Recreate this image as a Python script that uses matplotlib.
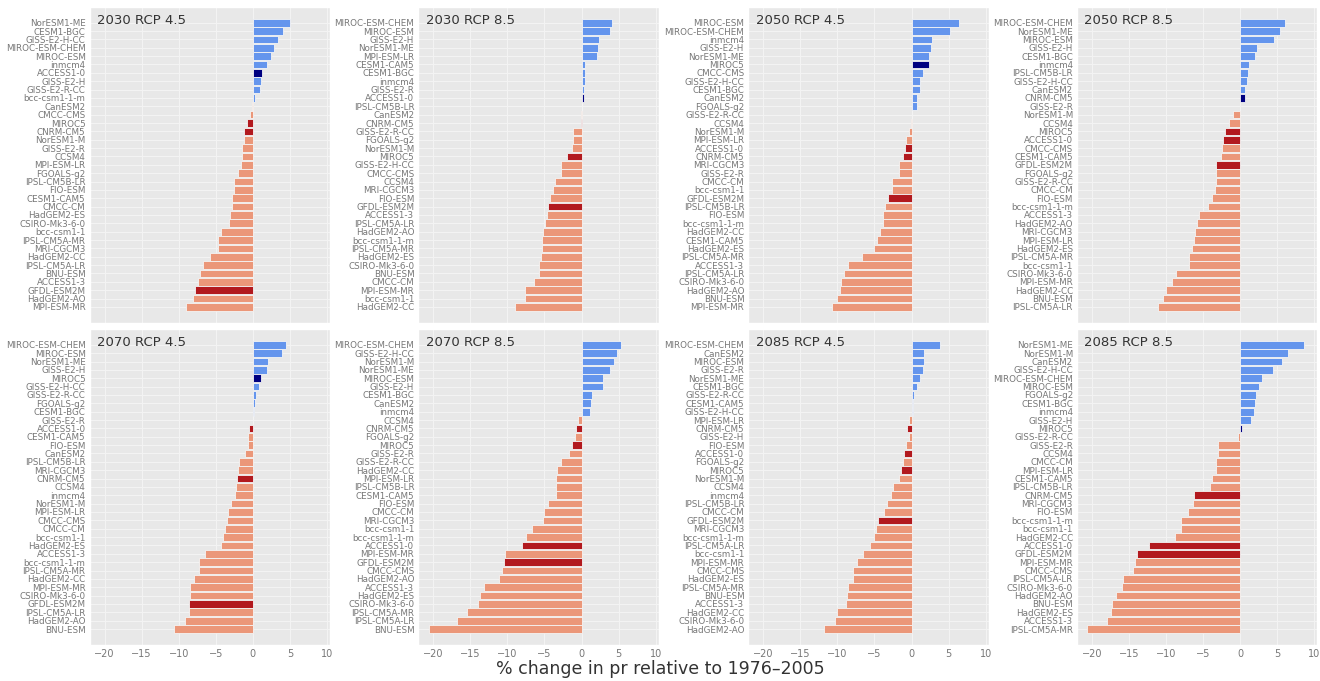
import numpy as np
import matplotlib
matplotlib.use("Agg")
import matplotlib.pyplot as plt

plt.style.use("ggplot")

# % change in pr per model, sorted from largest to smallest
models_2030_45 = ["NorESM1-ME", "CESM1-BGC", "GISS-E2-H-CC", "MIROC-ESM-CHEM", "MIROC-ESM", "inmcm4",
                  "ACCESS1-0", "GISS-E2-H", "GISS-E2-R-CC", "bcc-csm1-1-m", "CanESM2", "CMCC-CMS",
                  "MIROC5", "CNRM-CM5", "NorESM1-M", "GISS-E2-R", "CCSM4", "MPI-ESM-LR", "FGOALS-g2",
                  "IPSL-CM5B-LR", "FIO-ESM", "CESM1-CAM5", "CMCC-CM", "HadGEM2-ES", "CSIRO-Mk3-6-0",
                  "bcc-csm1-1", "IPSL-CM5A-MR", "MRI-CGCM3", "HadGEM2-CC", "IPSL-CM5A-LR", "BNU-ESM",
                  "ACCESS1-3", "GFDL-ESM2M", "HadGEM2-AO", "MPI-ESM-MR"]
pr_2030_45 = [5.0, 4.0, 3.4, 2.9, 2.5, 1.85, 1.2, 1.1, 0.95, 0.25, -0.1, -0.4, -0.85, -1.2, -1.25,
              -1.45, -1.5, -1.6, -2.0, -2.5, -2.5, -2.8, -2.8, -3.1, -3.2, -4.3, -4.7, -4.7, -5.85,
              -6.7, -7.1, -7.4, -7.75, -8.1, -9.05]

models_2030_85 = ["MIROC-ESM-CHEM", "MIROC-ESM", "GISS-E2-H", "NorESM1-ME", "MPI-ESM-LR", "CESM1-CAM5",
                  "CESM1-BGC", "inmcm4", "GISS-E2-R", "ACCESS1-0", "IPSL-CM5B-LR", "CanESM2", "CNRM-CM5",
                  "GISS-E2-R-CC", "FGOALS-g2", "NorESM1-M", "MIROC5", "GISS-E2-H-CC", "CMCC-CMS", "CCSM4",
                  "MRI-CGCM3", "FIO-ESM", "GFDL-ESM2M", "ACCESS1-3", "IPSL-CM5A-LR", "HadGEM2-AO",
                  "bcc-csm1-1-m", "IPSL-CM5A-MR", "HadGEM2-ES", "CSIRO-Mk3-6-0", "BNU-ESM", "CMCC-CM",
                  "MPI-ESM-MR", "bcc-csm1-1", "HadGEM2-CC"]
pr_2030_85 = [4.05, 3.8, 2.4, 2.15, 2.1, 0.5, 0.45, 0.4, 0.35, 0.35, 0.02, -0.02, -0.1, -1.1, -1.1,
              -1.25, -1.9, -2.8, -2.8, -3.6, -3.9, -4.2, -4.55, -4.7, -4.95, -5.15, -5.3, -5.35, -5.5,
              -5.7, -5.8, -6.4, -7.6, -7.6, -9.0]

models_2050_45 = ["MIROC-ESM", "MIROC-ESM-CHEM", "inmcm4", "GISS-E2-H", "NorESM1-ME", "MIROC5", "CMCC-CMS",
                  "GISS-E2-H-CC", "CESM1-BGC", "CanESM2", "FGOALS-g2", "GISS-E2-R-CC", "CCSM4", "NorESM1-M",
                  "MPI-ESM-LR", "ACCESS1-0", "CNRM-CM5", "MRI-CGCM3", "GISS-E2-R", "CMCC-CM", "bcc-csm1-1",
                  "GFDL-ESM2M", "IPSL-CM5B-LR", "FIO-ESM", "bcc-csm1-1-m", "HadGEM2-CC", "CESM1-CAM5",
                  "HadGEM2-ES", "IPSL-CM5A-MR", "ACCESS1-3", "IPSL-CM5A-LR", "CSIRO-Mk3-6-0", "HadGEM2-AO",
                  "BNU-ESM", "MPI-ESM-MR"]
pr_2050_45 = [6.45, 5.2, 2.75, 2.6, 2.4, 2.4, 1.6, 1.2, 1.1, 0.7, 0.7, 0.02, -0.1, -0.3, -0.7, -0.85,
              -1.1, -1.7, -1.7, -2.6, -2.6, -3.2, -3.65, -3.8, -3.8, -4.3, -4.6, -5.0, -6.65, -8.55,
              -9.15, -9.5, -9.65, -10.1, -10.7]

models_2050_85 = ["MIROC-ESM-CHEM", "NorESM1-ME", "MIROC-ESM", "GISS-E2-H", "CESM1-BGC", "inmcm4",
                  "IPSL-CM5B-LR", "GISS-E2-H-CC", "CanESM2", "CNRM-CM5", "GISS-E2-R", "NorESM1-M", "CCSM4",
                  "MIROC5", "ACCESS1-0", "CMCC-CMS", "CESM1-CAM5", "GFDL-ESM2M", "FGOALS-g2", "GISS-E2-R-CC",
                  "CMCC-CM", "FIO-ESM", "bcc-csm1-1-m", "ACCESS1-3", "HadGEM2-AO", "MRI-CGCM3", "MPI-ESM-LR",
                  "HadGEM2-ES", "IPSL-CM5A-MR", "bcc-csm1-1", "CSIRO-Mk3-6-0", "MPI-ESM-MR", "HadGEM2-CC",
                  "BNU-ESM", "IPSL-CM5A-LR"]
pr_2050_85 = [6.0, 5.4, 4.6, 2.25, 2.0, 1.2, 1.0, 0.9, 0.7, 0.6, -0.05, -0.95, -1.5, -2.0, -2.3, -2.45,
              -2.55, -3.3, -3.3, -3.3, -3.45, -3.75, -4.4, -5.5, -5.85, -6.1, -6.3, -6.5, -6.9, -6.95,
              -8.6, -9.2, -10.0, -10.45, -11.1]

models_2070_45 = ["MIROC-ESM-CHEM", "MIROC-ESM", "NorESM1-ME", "GISS-E2-H", "MIROC5", "GISS-E2-H-CC",
                  "GISS-E2-R-CC", "FGOALS-g2", "CESM1-BGC", "GISS-E2-R", "ACCESS1-0", "CESM1-CAM5", "FIO-ESM",
                  "CanESM2", "IPSL-CM5B-LR", "MRI-CGCM3", "CNRM-CM5", "CCSM4", "inmcm4", "NorESM1-M",
                  "MPI-ESM-LR", "CMCC-CMS", "CMCC-CM", "bcc-csm1-1", "HadGEM2-ES", "ACCESS1-3", "bcc-csm1-1-m",
                  "IPSL-CM5A-MR", "HadGEM2-CC", "MPI-ESM-MR", "CSIRO-Mk3-6-0", "GFDL-ESM2M", "IPSL-CM5A-LR",
                  "HadGEM2-AO", "BNU-ESM"]
pr_2070_45 = [4.5, 3.9, 2.1, 1.9, 1.1, 0.85, 0.45, 0.3, 0.1, 0.02, -0.55, -0.6, -0.7, -1.1, -1.85,
              -2.0, -2.2, -2.3, -2.4, -2.9, -3.4, -3.55, -3.8, -4.0, -4.35, -6.5, -7.2, -7.25, -7.9,
              -8.5, -8.5, -8.65, -8.65, -9.2, -10.6]

models_2070_85 = ["MIROC-ESM-CHEM", "GISS-E2-H-CC", "NorESM1-M", "NorESM1-ME", "MIROC-ESM", "GISS-E2-H",
                  "CESM1-BGC", "CanESM2", "inmcm4", "CCSM4", "CNRM-CM5", "FGOALS-g2", "MIROC5", "GISS-E2-R",
                  "GISS-E2-R-CC", "HadGEM2-CC", "MPI-ESM-LR", "IPSL-CM5B-LR", "CESM1-CAM5", "FIO-ESM",
                  "CMCC-CM", "MRI-CGCM3", "bcc-csm1-1", "bcc-csm1-1-m", "ACCESS1-0", "MPI-ESM-MR",
                  "GFDL-ESM2M", "CMCC-CMS", "HadGEM2-AO", "ACCESS1-3", "HadGEM2-ES", "CSIRO-Mk3-6-0",
                  "IPSL-CM5A-MR", "IPSL-CM5A-LR", "BNU-ESM"]
pr_2070_85 = [5.3, 4.8, 4.4, 3.8, 2.9, 2.9, 1.4, 1.3, 1.2, -0.5, -0.75, -0.95, -1.3, -1.7, -2.75,
              -3.3, -3.4, -3.4, -3.5, -4.55, -5.05, -5.15, -6.7, -7.45, -8.1, -10.35, -10.45, -10.75,
              -11.1, -13.1, -13.7, -13.9, -15.4, -16.75, -20.6]

models_2085_45 = ["MIROC-ESM-CHEM", "CanESM2", "MIROC-ESM", "GISS-E2-R", "NorESM1-ME", "CESM1-BGC",
                  "GISS-E2-R-CC", "CESM1-CAM5", "GISS-E2-H-CC", "MPI-ESM-LR", "CNRM-CM5", "GISS-E2-H",
                  "FIO-ESM", "ACCESS1-0", "FGOALS-g2", "MIROC5", "NorESM1-M", "CCSM4", "inmcm4",
                  "IPSL-CM5B-LR", "CMCC-CM", "GFDL-ESM2M", "MRI-CGCM3", "bcc-csm1-1-m", "IPSL-CM5A-LR",
                  "bcc-csm1-1", "MPI-ESM-MR", "CMCC-CMS", "HadGEM2-ES", "IPSL-CM5A-MR", "BNU-ESM",
                  "ACCESS1-3", "HadGEM2-CC", "CSIRO-Mk3-6-0", "HadGEM2-AO"]
pr_2085_45 = [3.8, 1.7, 1.65, 1.6, 1.2, 0.75, 0.3, 0.25, 0.25, -0.4, -0.6, -0.4, -0.8, -1.0, -1.1,
              -1.45, -1.75, -2.45, -2.75, -3.35, -3.75, -4.55, -4.85, -5.05, -5.55, -6.6, -7.35, -7.9,
              -7.9, -8.55, -8.7, -8.9, -10.1, -10.35, -11.8]

models_2085_85 = ["NorESM1-ME", "NorESM1-M", "CanESM2", "GISS-E2-H-CC", "MIROC-ESM-CHEM", "MIROC-ESM",
                  "FGOALS-g2", "CESM1-BGC", "inmcm4", "GISS-E2-H", "MIROC5", "GISS-E2-R-CC", "GISS-E2-R",
                  "CCSM4", "CMCC-CM", "MPI-ESM-LR", "CESM1-CAM5", "IPSL-CM5B-LR", "CNRM-CM5", "MRI-CGCM3",
                  "FIO-ESM", "bcc-csm1-1-m", "bcc-csm1-1", "HadGEM2-CC", "ACCESS1-0", "GFDL-ESM2M",
                  "MPI-ESM-MR", "CMCC-CMS", "IPSL-CM5A-LR", "CSIRO-Mk3-6-0", "HadGEM2-AO", "BNU-ESM",
                  "HadGEM2-ES", "ACCESS1-3", "IPSL-CM5A-MR"]
pr_2085_85 = [8.6, 6.45, 5.6, 4.4, 2.9, 2.5, 2.15, 1.95, 1.85, 1.5, 0.3, -0.3, -3.0, -3.0, -3.25,
              -3.25, -3.75, -4.05, -6.25, -6.4, -7.0, -8.0, -8.05, -8.75, -12.35, -13.95, -14.25,
              -14.5, -15.8, -15.9, -16.75, -17.35, -17.4, -18.0, -20.7]

highlight = ["ACCESS1-0", "MIROC5", "CNRM-CM5", "GFDL-ESM2M"]

panels = [("2030 RCP 4.5", models_2030_45, pr_2030_45),
          ("2030 RCP 8.5", models_2030_85, pr_2030_85),
          ("2050 RCP 4.5", models_2050_45, pr_2050_45),
          ("2050 RCP 8.5", models_2050_85, pr_2050_85),
          ("2070 RCP 4.5", models_2070_45, pr_2070_45),
          ("2070 RCP 8.5", models_2070_85, pr_2070_85),
          ("2085 RCP 4.5", models_2085_45, pr_2085_45),
          ("2085 RCP 8.5", models_2085_85, pr_2085_85)]


def bar_color(name, v):
    if name in highlight:
        return "#000080" if v > 0 else "#B2191E"
    return "#6495ED" if v > 0 else "#EB9779"


fig = plt.figure(figsize=(13.2, 6.81), dpi=100)
lefts = [0.068, 0.317, 0.567, 0.816]
bottoms = [0.526, 0.053]
w, h = 0.182, 0.464

for k, (title, names, vals) in enumerate(panels):
    row, col = divmod(k, 4)
    ax = fig.add_axes([lefts[col], bottoms[row], w, h])
    ax.set_facecolor("#E8E8E8")
    n = len(names)
    y = np.arange(n)[::-1]
    ax.barh(y, vals, height=0.92, color=[bar_color(m, v) for m, v in zip(names, vals)],
            edgecolor="#F4F4F4", linewidth=0.6, zorder=2)
    ax.set_yticks(y)
    ax.set_yticklabels(names, fontsize=6.3, color="#777777")
    ax.set_ylim(-1.9, n - 1 + 1.9)
    ax.set_xlim(-22, 10.4)
    ax.set_xticks([-20, -15, -10, -5, 0, 5, 10])
    ax.tick_params(length=0, pad=3)
    ax.grid(True, color="#F4F4F4", linewidth=0.7, zorder=0)
    ax.set_axisbelow(True)
    if row == 1:
        ax.tick_params(axis="x", labelsize=7, labelcolor="#777777")
    else:
        ax.set_xticklabels([])
    ax.text(0.03, 0.957, title, transform=ax.transAxes, fontsize=9.5, color="#333333",
            ha="left", va="center")

fig.text(0.5, 0.018, "% change in pr relative to 1976\u20132005", ha="center", va="center",
         fontsize=12.5, color="#333333")

fig.savefig("out.png", dpi=100)
